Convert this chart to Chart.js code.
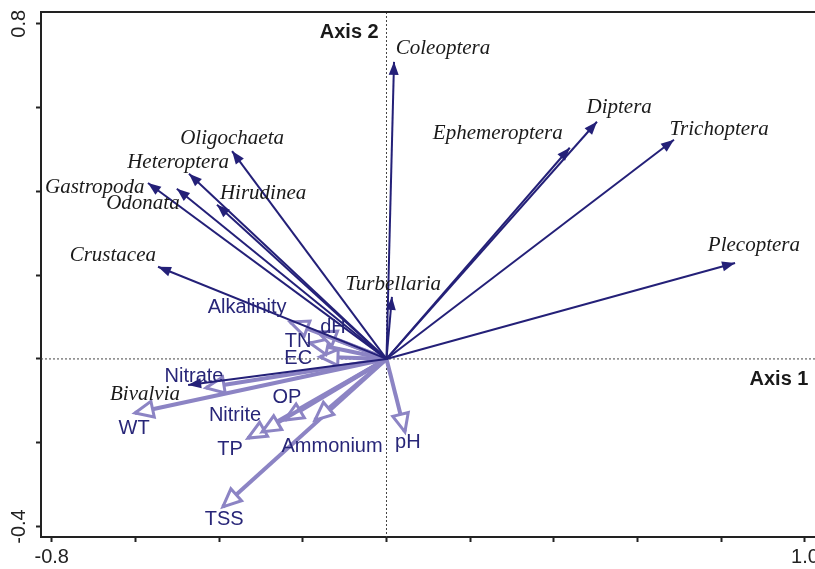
<!DOCTYPE html>
<html>
<head>
<meta charset="utf-8">
<script src="https://cdn.jsdelivr.net/npm/chart.js@4.4.1/dist/chart.umd.min.js"></script>
<style>
  body { margin: 0; background: #fff; }
  #wrap { width: 815px; height: 569px; }
</style>
</head>
<body>
<div id="wrap"><canvas id="chart"></canvas></div>
<script>
// species scores (arrow tips) on axis 1 / axis 2
const speciesNames = ['Coleoptera', 'Ephemeroptera', 'Diptera', 'Trichoptera', 'Plecoptera', 'Turbellaria',
  'Oligochaeta', 'Heteroptera', 'Gastropoda', 'Odonata', 'Hirudinea', 'Crustacea', 'Bivalvia'];
const speciesAxis1 = [0.018, 0.438, 0.503, 0.687, 0.833, 0.013, -0.369, -0.472, -0.570, -0.501, -0.405, -0.546, -0.474];
const speciesAxis2 = [0.709, 0.504, 0.566, 0.523, 0.229, 0.148, 0.496, 0.442, 0.420, 0.406, 0.368, 0.220, -0.062];

// environmental variables
const envNames = ['Alkalinity', 'dH', 'TN', 'EC', 'Nitrate', 'WT', 'Nitrite', 'OP', 'TP', 'Ammonium', 'pH', 'TSS'];
const envAxis1 = [-0.230, -0.164, -0.183, -0.159, -0.431, -0.601, -0.297, -0.243, -0.331, -0.171, 0.044, -0.391];
const envAxis2 = [0.088, 0.064, 0.038, 0.005, -0.069, -0.129, -0.174, -0.146, -0.189, -0.146, -0.174, -0.353];

// ticks
const xTicks = [-0.8, -0.6, -0.4, -0.2, 0, 0.2, 0.4, 0.6, 0.8, 1.0];
const yTicks = [-0.4, -0.2, 0, 0.2, 0.4, 0.6, 0.8];
const xTickLabels = [-0.8, 1.0];
const yTickLabels = [-0.4, 0.8];

// where the names sit (data units)
const speciesLabelAt = [[0.135, 0.742], [0.266, 0.539], [0.556, 0.599], [0.795, 0.547], [0.878, 0.270], [0.016, 0.177],
  [-0.369, 0.527], [-0.498, 0.468], [-0.697, 0.408], [-0.582, 0.370], [-0.295, 0.396], [-0.654, 0.248], [-0.577, -0.086]];
const envLabelAt = [[-0.333, 0.122], [-0.128, 0.076], [-0.211, 0.041], [-0.211, 0.002], [-0.460, -0.041], [-0.603, -0.167],
  [-0.362, -0.134], [-0.238, -0.091], [-0.374, -0.215], [-0.130, -0.208], [0.051, -0.200], [-0.388, -0.384]];

const SPECIES_COLOR = 'rgb(36,32,120)';
const ENV_COLOR = 'rgb(140,132,196)';
const TEXT_NAVY = 'rgb(40,38,120)';

const datasets = [];
speciesNames.forEach((name, i) => {
  datasets.push({
    label: name, kind: 'species',
    data: [{ x: 0, y: 0 }, { x: speciesAxis1[i], y: speciesAxis2[i] }],
    showLine: true, borderColor: SPECIES_COLOR, borderWidth: 2, pointRadius: 0
  });
});
envNames.forEach((name, i) => {
  datasets.push({
    label: name, kind: 'env',
    data: [{ x: 0, y: 0 }, { x: envAxis1[i], y: envAxis2[i] }],
    showLine: true, borderColor: ENV_COLOR, borderWidth: 4, pointRadius: 0
  });
});

function arrowHead(ctx, p0, p1, len, half, filled, color) {
  const a = Math.atan2(p1.y - p0.y, p1.x - p0.x);
  const bx = p1.x - len * Math.cos(a), by = p1.y - len * Math.sin(a);
  const nx = -Math.sin(a) * half, ny = Math.cos(a) * half;
  ctx.beginPath();
  ctx.moveTo(p1.x, p1.y);
  ctx.lineTo(bx + nx, by + ny);
  ctx.lineTo(bx - nx, by - ny);
  ctx.closePath();
  if (filled) {
    ctx.fillStyle = color;
    ctx.fill();
  } else {
    ctx.fillStyle = '#fff';
    ctx.fill();
    ctx.strokeStyle = color;
    ctx.lineWidth = 3;
    ctx.lineJoin = 'miter';
    ctx.stroke();
  }
}

const biplotPlugin = {
  id: 'biplot',
  beforeDatasetsDraw(chart) {
    const { ctx, chartArea, scales } = chart;
    const x0 = scales.x.getPixelForValue(0), y0 = scales.y.getPixelForValue(0);
    ctx.save();
    ctx.strokeStyle = '#444';
    ctx.lineWidth = 1;
    ctx.setLineDash([2, 2]);
    ctx.beginPath();
    ctx.moveTo(x0, chartArea.top); ctx.lineTo(x0, chartArea.bottom);
    ctx.moveTo(chartArea.left, y0); ctx.lineTo(chartArea.right, y0);
    ctx.stroke();
    ctx.restore();
  },
  afterDatasetDraw(chart, args) {
    const ds = chart.data.datasets[args.index];
    const pts = args.meta.data;
    const ctx = chart.ctx;
    ctx.save();
    if (ds.kind === 'species') {
      arrowHead(ctx, pts[0], pts[1], 13, 5, true, SPECIES_COLOR);
    } else {
      arrowHead(ctx, pts[0], pts[1], 18, 8, false, ENV_COLOR);
    }
    ctx.restore();
  },
  afterDraw(chart) {
    const { ctx, chartArea, scales } = chart;
    ctx.save();
    // top frame line
    ctx.strokeStyle = '#222';
    ctx.lineWidth = 2;
    ctx.beginPath();
    ctx.moveTo(chartArea.left - 1, chartArea.top);
    ctx.lineTo(chartArea.right, chartArea.top);
    ctx.stroke();

    ctx.textAlign = 'center';
    ctx.textBaseline = 'middle';
    ctx.font = 'italic 21px "Liberation Serif", "DejaVu Serif", serif';
    ctx.fillStyle = '#1a1a1a';
    speciesNames.forEach((name, i) => {
      const [lx, ly] = speciesLabelAt[i];
      ctx.fillText(name, scales.x.getPixelForValue(lx), scales.y.getPixelForValue(ly));
    });
    ctx.font = '20px "Liberation Sans", Arial, sans-serif';
    ctx.fillStyle = TEXT_NAVY;
    envNames.forEach((name, i) => {
      const [lx, ly] = envLabelAt[i];
      ctx.fillText(name, scales.x.getPixelForValue(lx), scales.y.getPixelForValue(ly));
    });
    ctx.font = 'bold 20px "Liberation Sans", Arial, sans-serif';
    ctx.fillStyle = '#1a1a1a';
    ctx.fillText('Axis 2', scales.x.getPixelForValue(-0.089), scales.y.getPixelForValue(0.778));
    ctx.fillText('Axis 1', scales.x.getPixelForValue(0.938), scales.y.getPixelForValue(-0.050));
    ctx.restore();
  }
};

const isLabelled = (list, v) => list.some(t => Math.abs(t - v) < 1e-6);

new Chart(document.getElementById('chart'), {
  type: 'scatter',
  data: { datasets },
  options: {
    responsive: true,
    maintainAspectRatio: false,
    animation: false,
    layout: { padding: { top: 12, right: 0, left: 0, bottom: 0 } },
    plugins: { legend: { display: false }, tooltip: { enabled: false } },
    scales: {
      x: {
        type: 'linear',
        min: -0.8256, max: 1.024,
        afterBuildTicks: s => { s.ticks = xTicks.map(v => ({ value: v })); },
        afterFit: s => { s.height = 32; s.paddingLeft = 0; s.paddingRight = 0; },
        ticks: {
          callback: v => isLabelled(xTickLabels, v) ? v.toFixed(1) : '',
          font: { size: 20, family: '"Liberation Sans", Arial, sans-serif' },
          color: '#222', padding: 3, maxRotation: 0, autoSkip: false
        },
        grid: { drawOnChartArea: false, drawTicks: true, tickLength: 5, tickColor: '#222', tickWidth: 2 },
        border: { color: '#222', width: 2 }
      },
      y: {
        type: 'linear',
        min: -0.425, max: 0.828,
        afterBuildTicks: s => { s.ticks = yTicks.map(v => ({ value: v })); },
        afterFit: s => { s.width = 41; s.paddingTop = 0; s.paddingBottom = 0; },
        ticks: {
          callback: v => isLabelled(yTickLabels, v) ? v.toFixed(1) : '',
          font: { size: 20, family: '"Liberation Sans", Arial, sans-serif' },
          color: '#222', padding: -1, minRotation: 90, maxRotation: 90,
          crossAlign: 'center', autoSkip: false
        },
        grid: { drawOnChartArea: false, drawTicks: true, tickLength: 5, tickColor: '#222', tickWidth: 2 },
        border: { color: '#222', width: 2 }
      }
    }
  },
  plugins: [biplotPlugin]
});
</script>
</body>
</html>
